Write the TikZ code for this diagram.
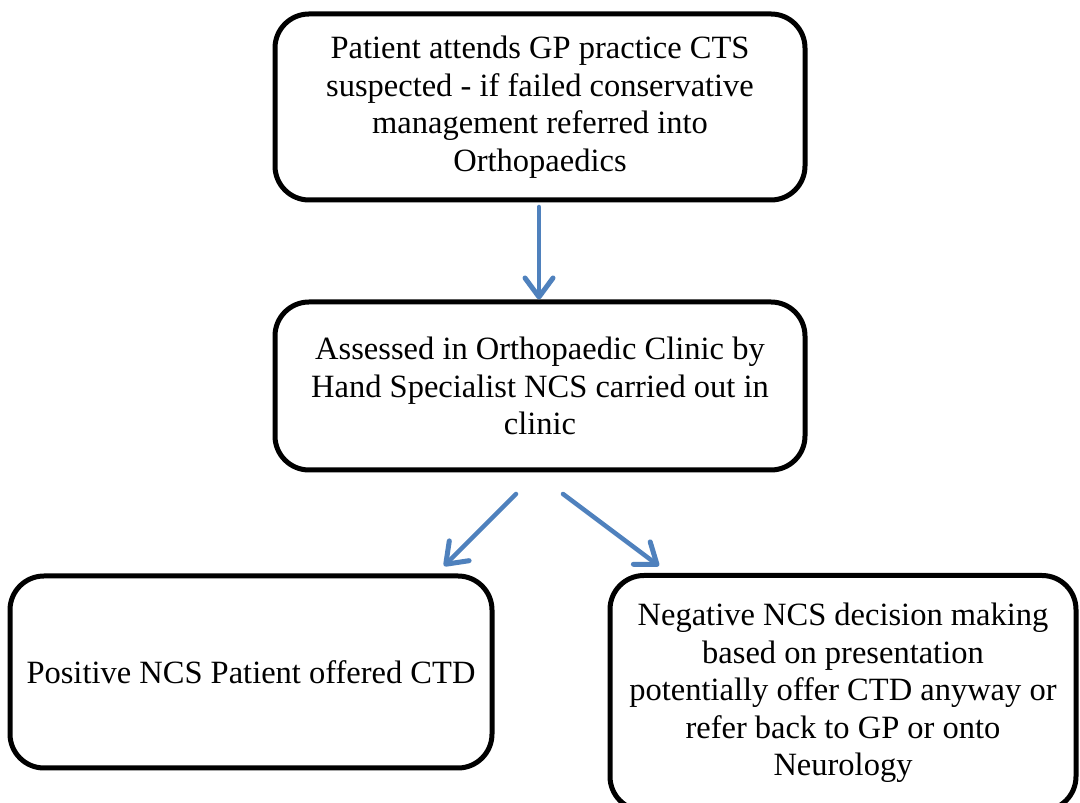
\documentclass[tikz,border=0pt]{standalone}
\usepackage{fontspec}
\setmainfont{Liberation Serif}
\usetikzlibrary{arrows.meta}
\definecolor{arrowblue}{HTML}{4F81BD}
\tikzset{
  box/.style={draw=black, line width=5pt, rounded corners=34pt, fill=white,
    align=center, inner sep=0pt, font=\fontsize{32.5}{37.5}\selectfont},
  flow/.style={draw=arrowblue, line width=4.5pt, line cap=round,
    -{Straight Barb[length=19pt,width=28pt,line width=5pt,round]}}
}
\begin{document}
\begin{tikzpicture}[x=1pt,y=1pt]
\clip (0,0) rectangle (1080,803);
\fill[white] (0,0) rectangle (1080,803);
\node[box, minimum width=530pt, minimum height=186pt] (gp) at (540,696)
  {Patient attends GP practice CTS\\suspected - if failed conservative\\management referred into\\Orthopaedics};
\node[box, minimum width=530pt, minimum height=168pt] (ortho) at (540,417)
  {Assessed in Orthopaedic Clinic by\\Hand Specialist NCS carried out in\\clinic};
\node[box, minimum width=482pt, minimum height=192pt] (pos) at (251,131)
  {Positive NCS Patient offered CTD};
\node[box, minimum width=466pt, minimum height=235pt] (neg) at (843,110)
  {Negative NCS decision making\\based on presentation\\potentially offer CTD anyway or\\refer back to GP or onto\\Neurology};
\coordinate (a1s) at (539,596);
\coordinate (a2s) at (516,309);
\coordinate (a2e) at (444,237);
\coordinate (a3s) at (563,309);
\coordinate (a3e) at (659,237);
\draw[flow] (a1s) -- (ortho.north -| a1s);
\draw[flow] (a2s) -- (a2e);
\draw[flow] (a3s) -- (a3e);
\end{tikzpicture}
\end{document}
